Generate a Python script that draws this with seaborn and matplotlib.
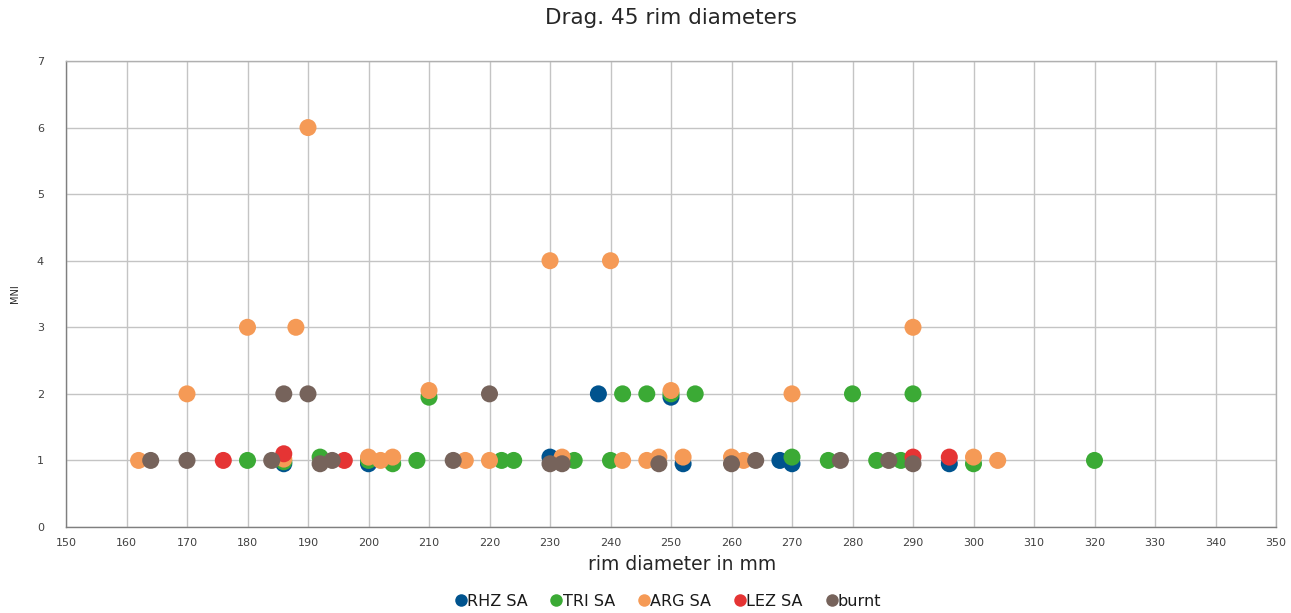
import matplotlib
matplotlib.use("Agg")
import matplotlib.pyplot as plt
import seaborn as sns
import pandas as pd

# Rim diameters (mm) and minimum number of individuals per fabric group
rhz_x = [186, 200, 230, 238, 250, 252, 268, 270, 296]
rhz_y = [0.95, 0.95, 1.05, 2, 1.95, 0.95, 1, 0.95, 0.95]

tri_x = [180, 186, 192, 200, 204, 208, 210, 222, 224, 234, 240, 242, 246, 250,
         254, 270, 276, 280, 284, 288, 290, 300, 320]
tri_y = [1, 0.98, 1.05, 1.0, 0.95, 1, 1.95, 1, 1, 1, 1, 2, 2, 2,
         2, 1.05, 1, 2, 1, 1, 2, 0.95, 1]

arg_x = [162, 170, 180, 186, 188, 190, 200, 202, 204, 210, 216, 220, 230, 232,
         240, 242, 246, 248, 250, 252, 260, 262, 270, 290, 300, 304]
arg_y = [1, 2, 3, 1.02, 3, 6, 1.05, 1, 1.05, 2.05, 1, 1, 4, 1.05,
         4, 1, 1, 1.05, 2.05, 1.05, 1.05, 1, 2, 3, 1.05, 1]

lez_x = [176, 186, 196, 290, 296]
lez_y = [1, 1.1, 1, 1.05, 1.05]

burnt_x = [164, 170, 184, 186, 190, 192, 194, 214, 220, 230, 232, 248, 260, 264,
           278, 286, 290]
burnt_y = [1, 1, 1, 2, 2, 0.95, 1, 1, 2, 0.95, 0.95, 0.95, 0.95, 1,
           1, 1, 0.95]

groups = ["RHZ SA", "TRI SA", "ARG SA", "LEZ SA", "burnt"]
colors = ["#00538E", "#3BAA35", "#F59A56", "#E53434", "#76635B"]
x_ticks = list(range(150, 351, 10))
y_ticks = list(range(0, 8))

frames = []
for name, xs, ys in zip(groups,
                        [rhz_x, tri_x, arg_x, lez_x, burnt_x],
                        [rhz_y, tri_y, arg_y, lez_y, burnt_y]):
    frames.append(pd.DataFrame({"diameter": xs, "mni": ys, "group": name}))
df = pd.concat(frames, ignore_index=True)

sns.set_theme(style="white")
plt.rcParams["font.family"] = ["DejaVu Sans"]

fig = plt.figure(figsize=(12.91, 6.13), dpi=100)
ax = fig.add_axes([66 / 1291, 1 - 527 / 613, 1210 / 1291, 466 / 613])

sns.scatterplot(data=df, x="diameter", y="mni", hue="group",
                hue_order=groups, palette=dict(zip(groups, colors)),
                s=150, linewidth=0, alpha=1, ax=ax, legend=False, zorder=3)

ax.set_xlim(150, 350)
ax.set_ylim(0, 7)
ax.set_xticks(x_ticks)
ax.set_yticks(y_ticks)
ax.tick_params(axis="x", length=0, labelsize=8, colors="#404040", pad=8)
ax.tick_params(axis="y", length=0, labelsize=8, colors="#404040", pad=16)
ax.grid(True, color="#C4C4C4", linewidth=1, zorder=0)
ax.set_axisbelow(True)
for side in ["top", "right"]:
    ax.spines[side].set_color("#B0B0B0")
    ax.spines[side].set_linewidth(1)
for side in ["left", "bottom"]:
    ax.spines[side].set_color("#7F7F7F")
    ax.spines[side].set_linewidth(1)

ax.set_xlabel("")
ax.set_ylabel("")
fig.text(682 / 1291, 1 - 565 / 613, "rim diameter in mm", ha="center",
         va="center", fontsize=13.5, color="#262626")
fig.text(15 / 1291, 1 - 294 / 613, "MNI", ha="center", va="center",
         rotation=90, fontsize=7, color="#262626")
fig.text(671 / 1291, 1 - 18 / 613, "Drag. 45 rim diameters", ha="center",
         va="center", fontsize=15.5, color="#262626")

handles = [plt.Line2D([], [], marker="o", linestyle="", markersize=9,
                      markerfacecolor=c, markeredgewidth=0) for c in colors]
fig.legend(handles, groups, loc="center", bbox_to_anchor=(667 / 1291, 1 - 601 / 613),
           ncol=5, frameon=False, fontsize=11.5, handletextpad=-0.1,
           columnspacing=1.3, handlelength=1.0, borderaxespad=0,
           labelcolor="#1a1a1a")

fig.savefig("out.png", dpi=100)
